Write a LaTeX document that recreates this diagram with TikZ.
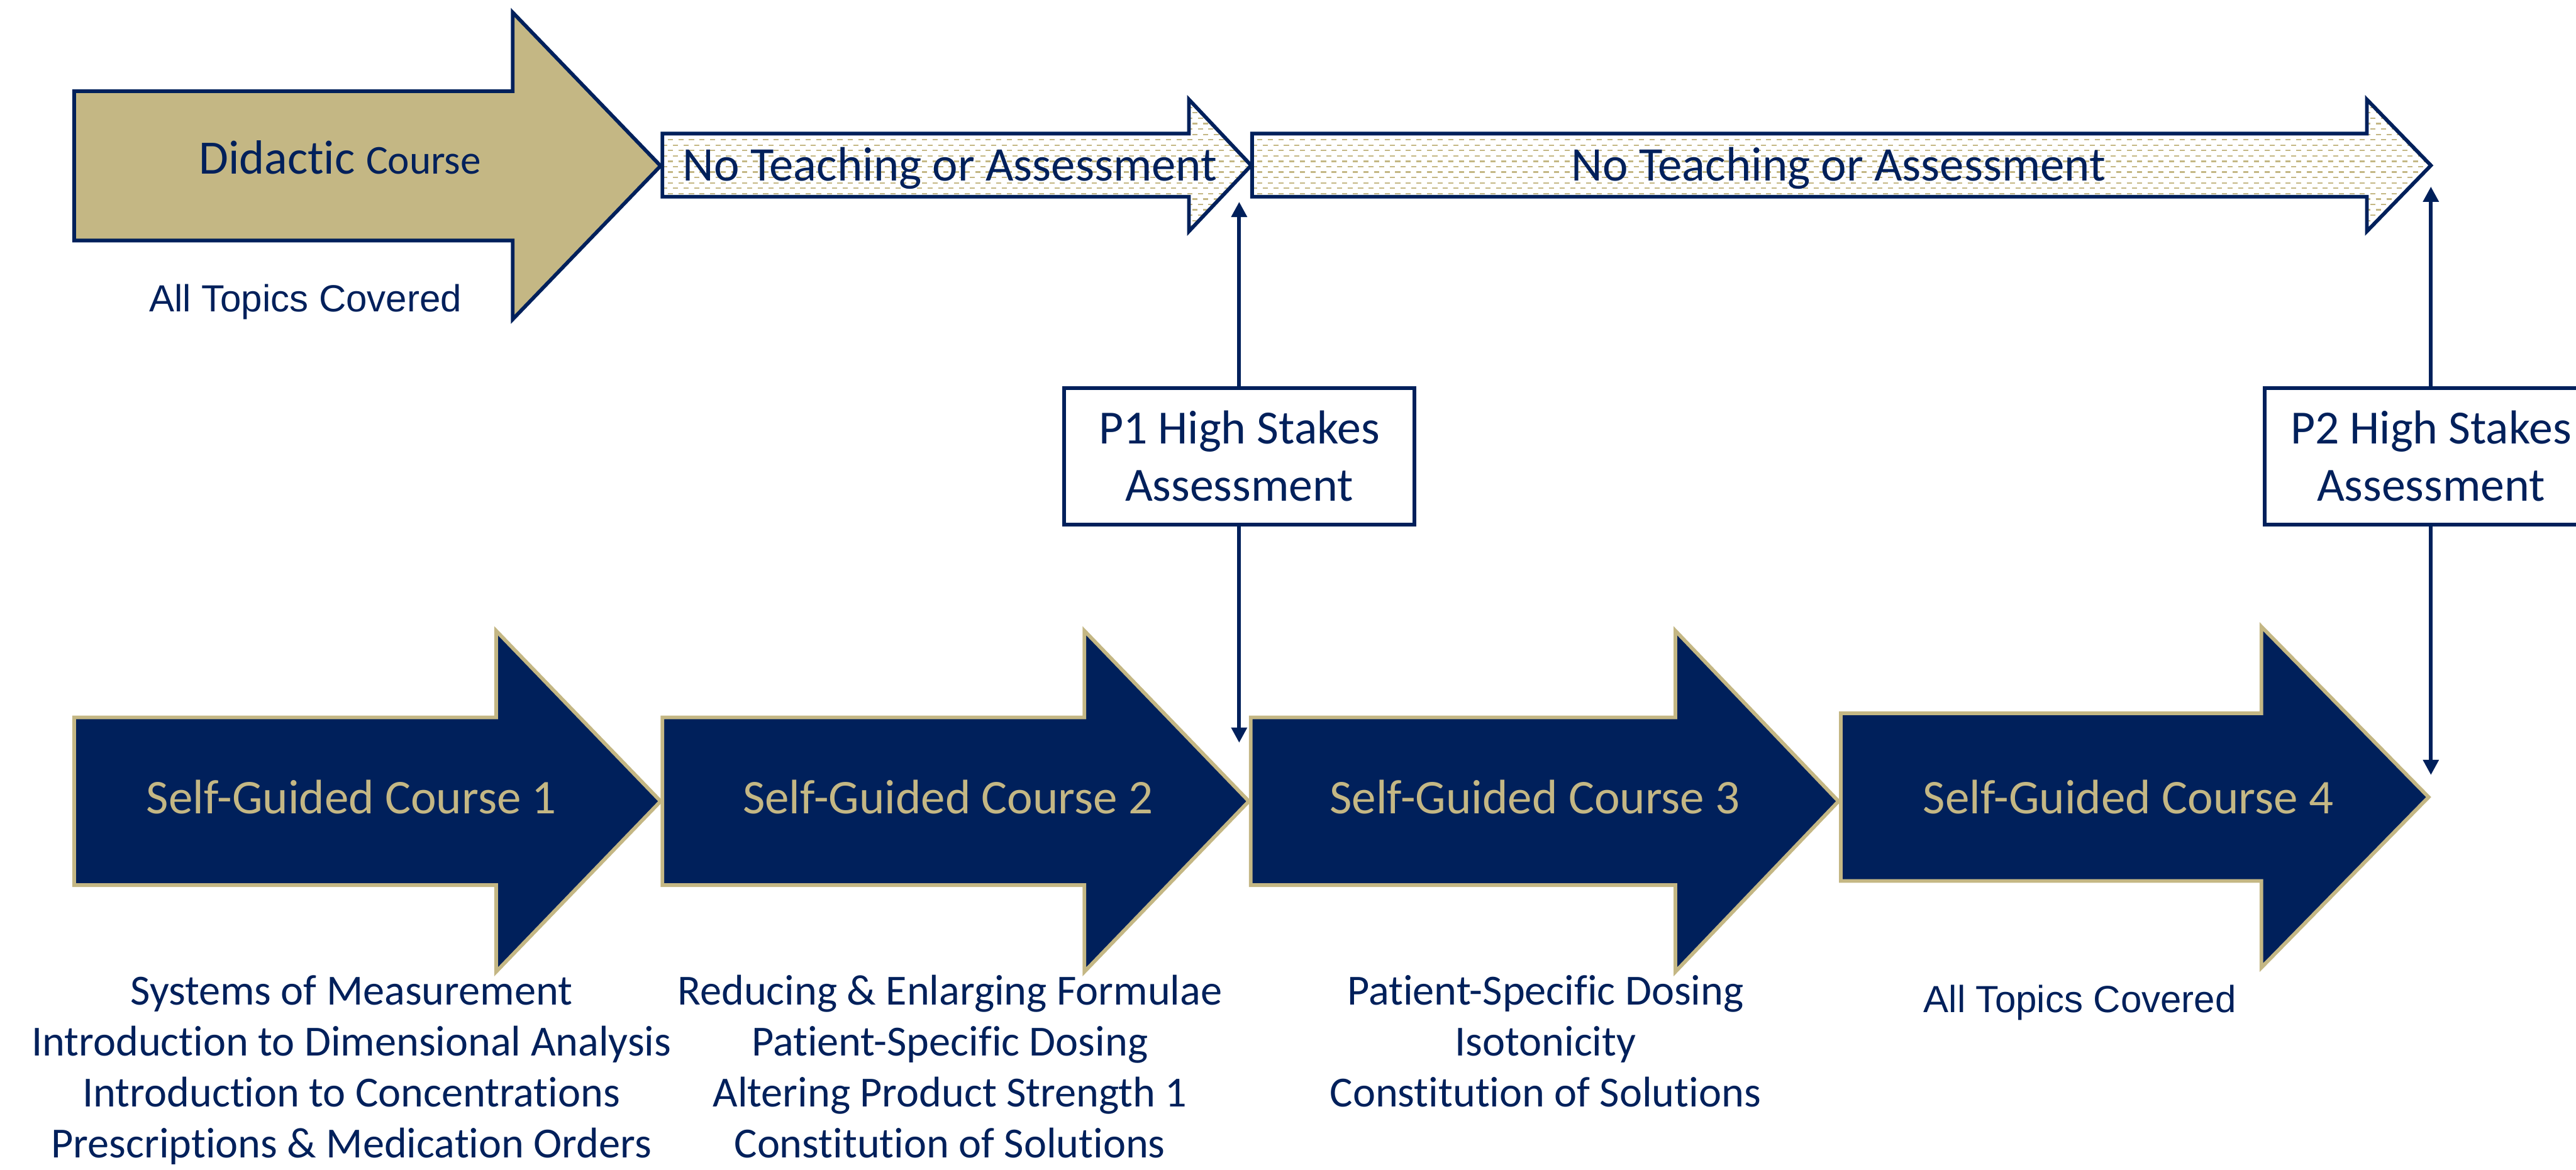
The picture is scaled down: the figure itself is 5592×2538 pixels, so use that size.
\documentclass[tikz,border=0pt]{standalone}
\usepackage{fontspec}
\setmainfont{Carlito}[Ligatures=NoCommon]
\newfontfamily\arialfont{Liberation Sans}
\usepackage{xcolor}
\usepackage{tikz}
\usetikzlibrary{arrows.meta,positioning,calc}

\definecolor{navy}{RGB}{0,32,91}
\definecolor{gold}{RGB}{196,183,132}

\tikzset{
  didactic/.style={fill=gold, draw=navy, line width=0.08cm},
  idle/.style={draw=navy, line width=0.08cm},
  dots/.style={gold, line width=0.03cm, dash pattern=on 0.11cm off 0.12cm},
  course/.style={fill=navy, draw=gold, line width=0.08cm},
  coursetext/.style={text=gold, font=\fontsize{29.9}{36}\selectfont, anchor=base},
  idletext/.style={text=navy, font=\fontsize{29.8}{36}\selectfont, anchor=base},
  topics/.style={text=navy, font=\fontsize{26.5}{31.5}\selectfont, align=center, anchor=base},
  note/.style={text=navy, font=\arialfont\fontsize{23.3}{28}\selectfont, anchor=base},
  stakes/.style={draw=navy, line width=0.08cm, fill=white, text=navy, align=center,
    font=\fontsize{29.4}{35.3}\selectfont, minimum height=2.96cm, inner sep=0pt},
  link/.style={navy, line width=0.08cm, -{Triangle[width=0.33cm,length=0.33cm]}},
}

\begin{document}
\begin{tikzpicture}[x=0.01cm, y=-0.01cm]
    \useasboundingbox (0,0) rectangle (5592,2538);
    \clip (0,0) rectangle (5592,2538);

    % Didactic course
    \draw[didactic] (161,198) -- (1113,198) -- (1113,27) -- (1434,360) -- (1113,693) -- (1113,522) -- (161,522) -- cycle;
    \node[anchor=base, text=navy] (didactic) at (738,377)
        {\fontsize{29.6}{36}\selectfont Didactic \fontsize{25.3}{30}\selectfont Course};
    \node[note] (alltopics) at (663,676) {All Topics Covered};

    % Gaps with no teaching (white, dotted gold)
    \foreach \l/\b/\t/\x/\n in {1438/2581/2716/2062/1, 2718/5138/5277/3991/2} {
        \begin{scope}
            \clip (\l,290) -- (\b,290) -- (\b,216) -- (\t,359) -- (\b,502) -- (\b,427) -- (\l,427) -- cycle;
            \fill[white] (\l,200) rectangle (\t,520);
            \foreach \k in {0,2,...,24}
                \draw[dots] (\l,221.4+\k*11.7) -- (\t,221.4+\k*11.7);
            \foreach \k in {1,3,...,23}
                \draw[dots, dash phase=0.115cm] (\l,221.4+\k*11.7) -- (\t,221.4+\k*11.7);
        \end{scope}
        \draw[idle] (\l,290) -- (\b,290) -- (\b,216) -- (\t,359) -- (\b,502) -- (\b,427) -- (\l,427) -- cycle;
        \node[idletext] (idle\n) at (\x,393) {No Teaching or Assessment};
    }

    % Self-guided courses
    \foreach \l/\b/\t/\y/\x/\n in {161/1077/1434/1739/763/1, 1438/2354/2711/1739/2058/2,
                                   2715/3637/3991/1739/3332/3, 3996/4909/5272/1730/4620/4} {
        \draw[course] (\l,\y-182) -- (\b,\y-182) -- (\b,\y-370) -- (\t,\y) -- (\b,\y+370) -- (\b,\y+182) -- (\l,\y+182) -- cycle;
        \node[coursetext] (sg\n) at (\x,1766) {Self-Guided Course \n};
    }

    % Topics under each course (base = last line)
    \node[topics] (topics1) at (763,2513) {Systems of Measurement\\Introduction to Dimensional Analysis\\Introduction to Concentrations\\Prescriptions \& Medication Orders};
    \node[topics] (topics2) at (2062,2513) {Reducing \& Enlarging Formulae\\Patient-Specific Dosing\\Altering Product Strength 1\\Constitution of Solutions};
    \node[topics] (topics3) at (3355,2402) {Patient-Specific Dosing\\Isotonicity\\Constitution of Solutions};
    \node[note] (topics4) at (4515,2197) {All Topics Covered};

    % High stakes assessments
    \node[stakes, minimum width=7.6cm] (p1) at (2690,990) {P1 High Stakes\\Assessment};
    \node[stakes, minimum width=7.22cm] (p2) at (5277,990) {P2 High Stakes\\Assessment};
    \coordinate (p1up) at (2690,438);
    \coordinate (p1down) at (2690,1612);
    \coordinate (p2up) at (5277,405);
    \coordinate (p2down) at (5277,1682);
    \draw[link] (p1) -- (p1up);
    \draw[link] (p1) -- (p1down);
    \draw[link] (p2) -- (p2up);
    \draw[link] (p2) -- (p2down);
\end{tikzpicture}
\end{document}
